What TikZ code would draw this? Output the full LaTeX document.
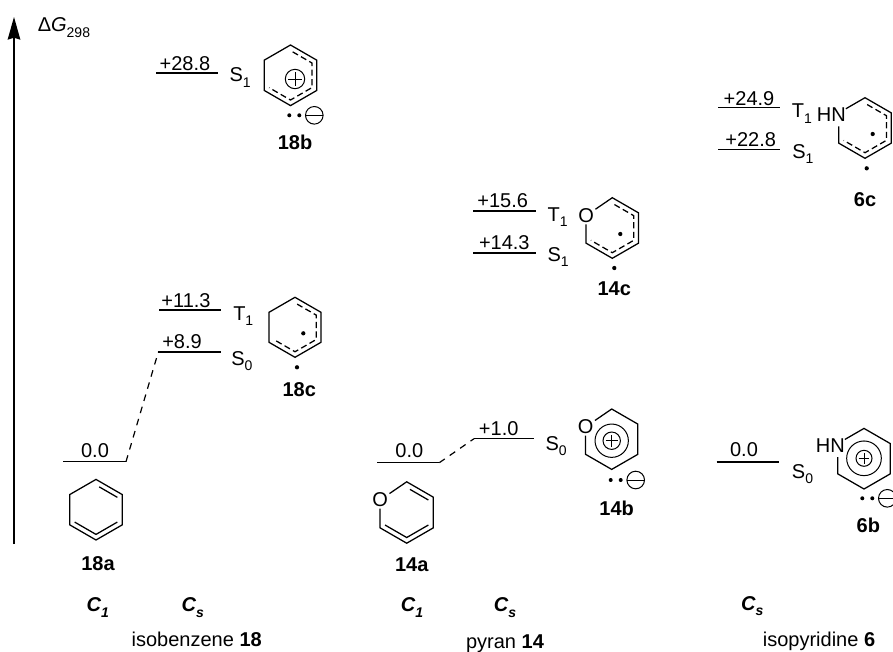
\documentclass[tikz,border=0pt]{standalone}
\usepackage{fontspec}
\setmainfont{Liberation Sans}
\usetikzlibrary{arrows.meta,calc}
\newcommand{\lowidx}[1]{\raisebox{-0.27em}{\fontsize{10.5}{11}\selectfont #1}}
\tikzset{
  x=0.75pt,y=-0.75pt,
  txt/.style={inner sep=0pt,font=\fontsize{15}{18}\selectfont},
  val/.style={txt,anchor=base},
  st/.style={txt,anchor=base west},
  cmpd/.style={txt,anchor=base,font=\fontsize{15}{18}\selectfont\bfseries},
  sym/.style={txt,anchor=base,font=\fontsize{15}{18}\selectfont\bfseries\itshape},
  level/.style={line width=0.95pt},
  dashlink/.style={line width=0.9pt,dash pattern=on 5pt off 4.5pt},
  bond/.style={line width=0.95pt,line join=miter},
  dbond/.style={line width=0.95pt,line join=miter},
  dashring/.style={line width=0.95pt,dash pattern=on 4.6pt off 2.6pt},
  atom/.style={txt,inner sep=1pt},
  dotfill/.style={fill=black,draw=none},
  chargering/.style={line width=0.75pt},
  axis/.style={line width=0.95pt,-{Stealth[length=17pt,width=9.5pt,inset=1.5pt]}},
}
% vertices #1-1..6 (top, clockwise) and inner vertices #1-i1..6
\newcommand{\hexpts}[4]{%
  \foreach \k in {1,...,6}{%
    \pgfmathsetmacro{\ang}{60*(\k-1)}%
    \coordinate (#1-\k) at ({#2+#4*sin(\ang)},{#3-#4*cos(\ang)});
    \coordinate (#1-i\k) at ({#2+0.815*#4*sin(\ang)},{#3-0.815*#4*cos(\ang)});
  }}
\newcommand{\ringCC}[1]{\draw[bond] (#1-1)--(#1-2)--(#1-3)--(#1-4)--(#1-5)--(#1-6)--cycle;}
\newcommand{\ringO}[1]{%
  \node[atom] (#1-O) at ($(#1-6)+(0,2.8)$) {O};
  \draw[bond] (#1-O)--(#1-1)--(#1-2)--(#1-3)--(#1-4)--(#1-5)--(#1-O);}
\newcommand{\ringNH}[1]{%
  \node[txt,anchor=base east] (#1-N) at ($(#1-6)+(7.2,8.9)$) {HN};
  \coordinate (#1-Na) at ($(#1-6)!0.27!(#1-1)$);
  \coordinate (#1-Nb) at ($(#1-6)!0.45!(#1-5)$);
  \draw[bond] (#1-Na)--(#1-1)--(#1-2)--(#1-3)--(#1-4)--(#1-5)--(#1-Nb);}
\newcommand{\dashinner}[1]{\draw[dashring] ($(#1-i1)!0.1!(#1-i2)$)--(#1-i2)--(#1-i3)--(#1-i4)--(#1-i5);}
\newcommand{\kekule}[1]{%
  \draw[dbond] ($(#1-i1)!0.15!(#1-i2)$)--(#1-i2);
  \draw[dbond] (#1-i5)--(#1-i4)--(#1-i3);}
\newcommand{\plusring}[3]{%
  \draw[chargering] (#1,#2) circle[radius=#3*0.75pt];
  \draw[chargering] (#1-#3*0.68,#2)--(#1+#3*0.68,#2);
  \draw[chargering] (#1,#2-#3*0.68)--(#1,#2+#3*0.68);}
\newcommand{\minusdots}[2]{%
  \fill[dotfill] (#1,#2) circle[radius=1.5pt];
  \fill[dotfill] (#1+10,#2) circle[radius=1.5pt];
  \draw[chargering] (#1+25,#2) circle[radius=6.6pt];
  \draw[chargering] (#1+25-8.5,#2)--(#1+25+8.5,#2);}
\newcommand{\onedot}[2]{\fill[dotfill] (#1,#2) circle[radius=1.6pt];}
\newcommand{\levelat}[6]{% name x1 x2 y
  \coordinate (#1-l) at (#2,#4);
  \coordinate (#1-r) at (#3,#4);
  \draw[level] (#1-l)--(#1-r);}
\begin{document}
\begin{tikzpicture}
\useasboundingbox (0,0) rectangle (893,651);
% axis
\coordinate (axb) at (14,544);
\coordinate (axt) at (14,17);
\draw[axis] (axb)--(axt);
\node[st] (dg) at (37.5,31.7) {Δ\textit{G}\lowidx{298}};

% --- isobenzene 18
\levelat{a18}{63.3}{126}{461.7}{}{}
\node[val] (va18) at (95,457.3) {0.0};
\hexpts{h18a}{96}{509.7}{30.3}
\ringCC{h18a}\kekule{h18a}
\node[cmpd] (n18a) at (98,570) {18a};

\levelat{c18s}{158.3}{220.5}{352}{}{}
\node[val] (v18s) at (182,348) {+8.9};
\node[st] (s18s) at (231,365) {S\lowidx{0}};
\levelat{c18t}{159}{221}{310}{}{}
\node[val] (v18t) at (186,307.5) {+11.3};
\node[st] (s18t) at (233,320) {T\lowidx{1}};
\hexpts{h18c}{295}{327.3}{30}
\ringCC{h18c}\dashinner{h18c}
\onedot{303.3}{333.3}\onedot{297}{367.3}
\node[cmpd] (n18c) at (299.3,396) {18c};
\draw[dashlink] (a18-r)--(c18s-l);

\levelat{b18}{156}{218}{73}{}{}
\node[val] (v18b) at (185,70.7) {+28.8};
\node[st] (s18b) at (229.3,81.7) {S\lowidx{1}};
\hexpts{h18b}{290.5}{75.3}{30.3}
\ringCC{h18b}\dashinner{h18b}
\plusring{295}{79}{9.7}
\minusdots{289.3}{115.3}
\node[cmpd] (n18b) at (295,149) {18b};

% --- pyran 14
\levelat{a14}{377.3}{439.3}{462.7}{}{}
\node[val] (va14) at (409.3,457.7) {0.0};
\hexpts{h14a}{406.7}{512.5}{30.7}
\ringO{h14a}\kekule{h14a}
\node[cmpd] (n14a) at (411.7,571.7) {14a};

\levelat{b14}{474}{534.3}{438.7}{}{}
\node[val] (vb14) at (498.7,435) {+1.0};
\node[st] (sb14) at (545.3,450) {S\lowidx{0}};
\draw[dashlink] (a14-r)--(b14-l);
\hexpts{h14b}{611.7}{439.2}{30.2}
\ringO{h14b}
\draw[chargering] (611.7,440.7) circle[radius=12.5pt];
\plusring{611.7}{440.7}{8.7}
\minusdots{610.7}{480}
\node[cmpd] (n14b) at (616.7,515) {14b};

\levelat{t14}{473.3}{535.7}{211}{}{}
\node[val] (vt14) at (502.7,207.7) {+15.6};
\node[st] (st14) at (547.3,221) {T\lowidx{1}};
\levelat{s14}{473.3}{535.7}{253}{}{}
\node[val] (vs14) at (504.3,249.3) {+14.3};
\node[st] (ss14) at (547.3,261) {S\lowidx{1}};
\hexpts{h14c}{612.3}{228}{30.3}
\ringO{h14c}\dashinner{h14c}
\onedot{620.3}{234}\onedot{614.3}{268}
\node[cmpd] (n14c) at (614.3,295) {14c};

% --- isopyridine 6
\levelat{b6}{716.7}{779}{462}{}{}
\node[val] (vb6) at (744,456.7) {0.0};
\node[st] (sb6) at (791.7,478.3) {S\lowidx{0}};
\hexpts{h6b}{864}{458.7}{30.3}
\ringNH{h6b}
\draw[chargering] (864,458.3) circle[radius=13pt];
\plusring{864}{458.3}{8}
\minusdots{862.3}{498.3}
\node[cmpd] (n6b) at (868.3,532.3) {6b};

\levelat{t6}{718.3}{780.3}{107.7}{}{}
\node[val] (vt6) at (749,105) {+24.9};
\node[st] (st6) at (791.7,117.7) {T\lowidx{1}};
\levelat{s6}{718.3}{780.3}{149.3}{}{}
\node[val] (vs6) at (750.7,146.7) {+22.8};
\node[st] (ss6) at (792,158.3) {S\lowidx{1}};
\hexpts{h6c}{865}{128}{30.3}
\ringNH{h6c}\dashinner{h6c}
\onedot{872.7}{134}\onedot{866.7}{168.3}
\node[cmpd] (n6c) at (865,206) {6c};

% --- bottom rows
\node[sym] (c1a) at (97.7,611.7) {C\lowidx{1}};
\node[sym] (csa) at (192.7,611.7) {C\lowidx{s}};
\node[val] (t18) at (196.7,646.7) {isobenzene \textbf{18}};
\node[sym] (c1b) at (412,611.7) {C\lowidx{1}};
\node[sym] (csb) at (505,611.7) {C\lowidx{s}};
\node[val] (t14) at (505,648) {pyran \textbf{14}};
\node[sym] (csc) at (752.3,610) {C\lowidx{s}};
\node[val] (t6) at (819,646) {isopyridine \textbf{6}};
\end{tikzpicture}
\end{document}
